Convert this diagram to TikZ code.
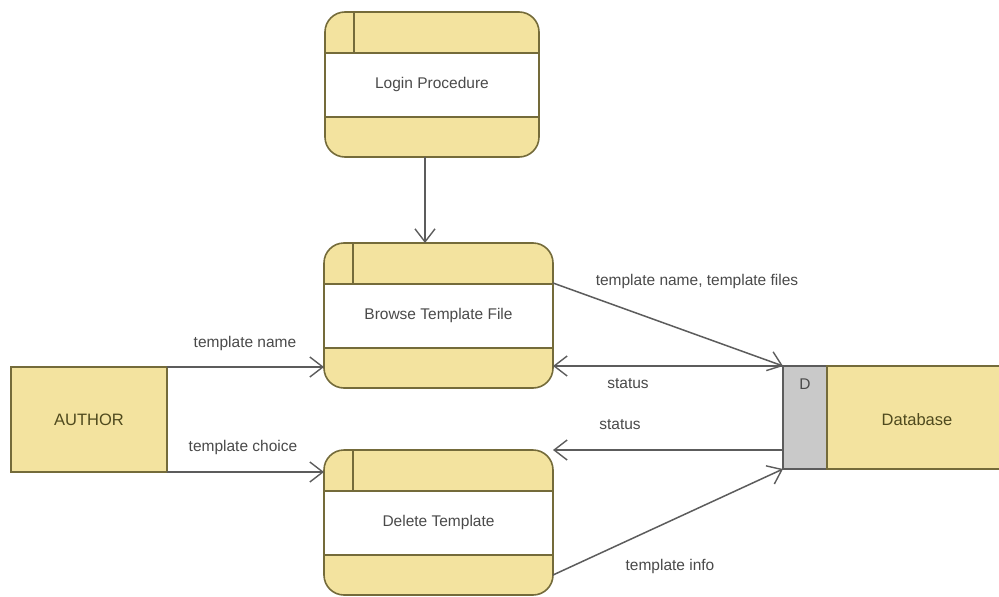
\documentclass[tikz,border=0pt]{standalone}
\usepackage{fontspec}
\setmainfont{Liberation Sans}
\usetikzlibrary{arrows.meta,calc}
\definecolor{dfdyellow}{HTML}{F3E39F}
\definecolor{dfdborder}{HTML}{746B3A}
\definecolor{dfdline}{HTML}{5C5C5C}
\definecolor{dfdtext}{HTML}{4A4A4A}
\definecolor{dfdolive}{HTML}{4F4A1E}
\definecolor{dfdgray}{HTML}{C9C9C9}
\tikzset{
  procshape/.style={rectangle, rounded corners=20pt, fill=dfdyellow, inner sep=0pt, outer sep=0pt},
  procborder/.style={draw=dfdborder, line width=1.6pt, rounded corners=20pt},
  procline/.style={draw=dfdborder, line width=1.6pt},
  proctext/.style={text=dfdtext, font=\fontsize{15.5}{18}\selectfont},
  flowlabel/.style={text=dfdtext, font=\fontsize{15.5}{18}\selectfont},
  flow/.style={draw=dfdline, line width=1.5pt, -{Straight Barb[length=13pt,width=20pt,line width=1.4pt]}},
  extent/.style={rectangle, fill=dfdyellow, draw=dfdborder, line width=1.6pt, inner sep=0pt, outer sep=0pt},
  storeid/.style={rectangle, fill=dfdgray, draw=dfdline, line width=1.4pt, inner sep=0pt, outer sep=0pt}
}
\newcommand\procbox[5]{%
  \node[procshape, minimum width=#4pt, minimum height=145pt, anchor=north west] (#1) at (#2,#3) {};
  \fill[white] ([yshift=-41pt]#1.north west) rectangle ([yshift=40pt]#1.south east);
  \draw[procline] ([yshift=-41pt]#1.north west) -- ([yshift=-41pt]#1.north east);
  \draw[procline] ([yshift=40pt]#1.south west) -- ([yshift=40pt]#1.south east);
  \draw[procline] ([xshift=29pt]#1.north west) -- ([xshift=29pt,yshift=-41pt]#1.north west);
  \draw[procborder] (#1.north west) rectangle (#1.south east);
  \node[proctext] (#1-label) at (#1.center) {#5};
}
\begin{document}
\begin{tikzpicture}[x=1pt,y=-1pt]
\useasboundingbox (0,0) rectangle (999,597);
\clip (0,0) rectangle (999,597);
\fill[white] (0,0) rectangle (999,597);

\procbox{login}{325}{12}{214}{Login Procedure}
\procbox{browse}{324}{243}{229}{Browse Template File}
\procbox{delete}{324}{450}{229}{Delete Template}

% external entity
\node[extent, minimum width=156pt, minimum height=105pt, anchor=north west] (author) at (11,367) {};
\node[text=dfdolive, font=\fontsize{16.5}{19}\selectfont] (authorlabel) at (author.center) {AUTHOR};

% data store
\node[storeid, minimum width=44pt, minimum height=103pt, anchor=north west] (dstore) at (783,366) {};
\node[text=dfdtext, font=\fontsize{15.5}{18}\selectfont] (dlabel) at (805,384) {D};
\node[extent, minimum width=190pt, minimum height=103pt, anchor=north west] (database) at (827,366) {};
\node[text=dfdolive, font=\fontsize{16.5}{19}\selectfont] (dblabel) at (917,420) {Database};

% connectors
\coordinate (loginbot) at (425,157);
\coordinate (browsetop) at (425,243);
\draw[flow] (loginbot) -- (browsetop);

\draw[flow] (author.north east) -- (browse.west |- author.north east);
\node[flowlabel] (l1) at (245,343) {template name};

\draw[flow] (author.south east) -- (delete.west |- author.south east);
\node[flowlabel] (l2) at (243,447) {template choice};

\draw[flow] ([yshift=-40pt]browse.north east) -- (dstore.north west);
\node[flowlabel] (l3) at (697,281) {template name, template files};

\draw[flow] (dstore.north west) -- (browse.east |- dstore.north west);
\node[flowlabel] (l4) at (628,384) {status};

\draw[flow] (dstore.west |- delete.north east) -- (delete.north east);
\node[flowlabel] (l5) at (620,425) {status};

\coordinate (delout) at (553,575);
\draw[flow] (delout) -- (dstore.south west);
\node[flowlabel] (l6) at (670,566) {template info};
\end{tikzpicture}
\end{document}
